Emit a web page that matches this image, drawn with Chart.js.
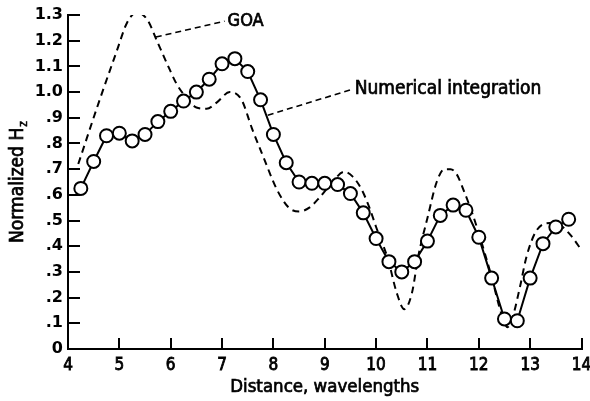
<!DOCTYPE html>
<html>
<head>
<meta charset="utf-8">
<script src="https://cdn.jsdelivr.net/npm/chart.js@4.4.1/dist/chart.umd.min.js"></script>
<style>
  html, body { margin: 0; padding: 0; background: #fff; }
</style>
</head>
<body>
<canvas id="myChart" width="590" height="401"></canvas>
<script>
// numerical integration (open circles)
const numX = [4.25, 4.5, 4.75, 5, 5.25, 5.5, 5.75, 6, 6.25, 6.5, 6.75, 7, 7.25, 7.5, 7.75,
  8, 8.25, 8.5, 8.75, 9, 9.25, 9.5, 9.75, 10, 10.25, 10.5, 10.75, 11, 11.25, 11.5, 11.75,
  12, 12.25, 12.5, 12.75, 13, 13.25, 13.5, 13.75];
const numY = [0.625, 0.73, 0.83, 0.84, 0.81, 0.835, 0.885, 0.925, 0.965, 1.0, 1.05, 1.11, 1.13, 1.08, 0.97,
  0.835, 0.725, 0.65, 0.645, 0.645, 0.64, 0.605, 0.53, 0.43, 0.34, 0.30, 0.34, 0.42, 0.52, 0.56, 0.54,
  0.435, 0.276, 0.117, 0.11, 0.276, 0.41, 0.475, 0.505];

// GOA (dashed curve)
const goaX = [4.2, 4.6, 4.95, 5.15, 5.34, 5.55, 5.73, 5.93, 6.12, 6.3, 6.5, 6.7, 6.9, 7.15, 7.38,
  7.58, 7.8, 8.07, 8.3, 8.5, 8.7, 8.9, 9.15, 9.38, 9.55, 9.72, 9.87, 10.0, 10.23, 10.4, 10.55,
  10.7, 10.82, 11.0, 11.18, 11.33, 11.45, 11.57, 11.72, 11.87, 12.0, 12.25, 12.45, 12.56, 12.66,
  12.8, 12.93, 13.12, 13.38, 13.6, 13.8, 14.0];
const goaY = [0.72, 0.96, 1.16, 1.27, 1.31, 1.28, 1.2, 1.11, 1.03, 0.98, 0.94, 0.935, 0.96, 1.0, 0.97,
  0.86, 0.75, 0.62, 0.55, 0.535, 0.55, 0.59, 0.65, 0.69, 0.67, 0.62, 0.55, 0.475, 0.35, 0.22, 0.155,
  0.22, 0.36, 0.51, 0.65, 0.7, 0.7, 0.68, 0.61, 0.53, 0.45, 0.28, 0.13, 0.085, 0.125,
  0.24, 0.36, 0.46, 0.49, 0.48, 0.44, 0.385];

// tick labels
const xTickValues = [4, 5, 6, 7, 8, 9, 10, 11, 12, 13, 14];
const yTickValues = [0, 0.1, 0.2, 0.3, 0.4, 0.5, 0.6, 0.7, 0.8, 0.9, 1.0, 1.1, 1.2, 1.3];
const yTickLabels = ["0", ".1", ".2", ".3", ".4", ".5", ".6", ".7", ".8", ".9", "1.0", "1.1", "1.2", "1.3"];

const narrow = "'DejaVu Sans Condensed', 'DejaVu Sans', sans-serif";

// callouts, in data units
const notes = [
  { text: "GOA", from: [5.71, 1.214], to: [7.05, 1.276], size: 18 },
  { text: "Numerical integration", from: [7.89, 0.91], to: [9.525, 1.01], size: 19 },
];

// fill + thin stroke so the condensed face looks as heavy as the original lettering
function heavyText(ctx, str, x, y) {
  ctx.fillText(str, x, y);
  ctx.strokeText(str, x, y);
}

const calloutPlugin = {
  id: "callouts",
  afterDraw(chart) {
    const ctx = chart.ctx;
    const x = chart.scales.x;
    const y = chart.scales.y;
    const area = chart.chartArea;
    ctx.save();
    ctx.strokeStyle = "#000";
    ctx.fillStyle = "#000";
    ctx.lineWidth = 1.6;
    ctx.setLineDash([6, 4]);
    notes.forEach((n) => {
      const x1 = x.getPixelForValue(n.from[0]);
      const y1 = y.getPixelForValue(n.from[1]);
      const x2 = x.getPixelForValue(n.to[0]);
      const y2 = y.getPixelForValue(n.to[1]);
      ctx.lineWidth = 1.6;
      ctx.setLineDash([6, 4]);
      ctx.beginPath();
      ctx.moveTo(x1, y1);
      ctx.lineTo(x2, y2);
      ctx.stroke();
      ctx.setLineDash([]);
      ctx.lineWidth = 0.7;
      ctx.font = n.size + "px " + narrow;
      ctx.textAlign = "left";
      ctx.textBaseline = "middle";
      heavyText(ctx, n.text, x2 + 3, y2);
    });
    ctx.setLineDash([]);
    ctx.lineWidth = 0.7;

    // x axis title
    ctx.font = "18.5px " + narrow;
    ctx.textAlign = "center";
    ctx.textBaseline = "middle";
    heavyText(ctx, "Distance, wavelengths", (area.left + area.right) / 2, chart.height - 14);

    // y axis title with subscript
    ctx.translate(18, (area.top + area.bottom) / 2);
    ctx.rotate(-Math.PI / 2);
    ctx.font = "19px " + narrow;
    const main = "Normalized H";
    const w1 = ctx.measureText(main).width;
    ctx.font = "12px " + narrow;
    const w2 = ctx.measureText("z").width;
    const start = -(w1 + w2 + 1) / 2;
    ctx.textAlign = "left";
    ctx.textBaseline = "middle";
    ctx.font = "19px " + narrow;
    heavyText(ctx, main, start, 0);
    ctx.font = "12px " + narrow;
    ctx.lineWidth = 0.5;
    heavyText(ctx, "z", start + w1 + 1, 6);
    ctx.restore();
  },
};

const data = {
  datasets: [
    {
      label: "Numerical integration",
      data: numX.map((v, i) => ({ x: v, y: numY[i] })),
      borderColor: "#000",
      borderWidth: 2,
      pointRadius: 6.5,
      pointBorderWidth: 2,
      pointBackgroundColor: "#fff",
      pointBorderColor: "#000",
      tension: 0,
      fill: false,
    },
    {
      label: "GOA",
      data: goaX.map((v, i) => ({ x: v, y: goaY[i] })),
      borderColor: "#000",
      borderWidth: 2,
      borderDash: [7, 5],
      pointRadius: 0,
      cubicInterpolationMode: "monotone",
      fill: false,
    },
  ],
};

const options = {
  responsive: false,
  animation: false,
  devicePixelRatio: 1,
  layout: { padding: { left: 0, top: 15, right: 8, bottom: 0 } },
  plugins: {
    legend: { display: false },
    tooltip: { enabled: false },
  },
  scales: {
    x: {
      type: "linear",
      min: 4,
      max: 14,
      afterBuildTicks: (scale) => {
        scale.ticks = xTickValues.map((v) => ({ value: v }));
      },
      afterFit: (scale) => {
        scale.height = 52;
        scale.paddingLeft = 0;
        scale.paddingRight = 0;
      },
      grid: {
        drawOnChartArea: false,
        drawTicks: true,
        tickLength: -11,
        color: "#000",
        lineWidth: 2,
      },
      border: { display: true, color: "#000", width: 2 },
      ticks: {
        color: "#000",
        padding: 19,
        maxRotation: 0,
        textStrokeColor: "#000",
        textStrokeWidth: 0.8,
        font: { family: narrow, size: 17, lineHeight: 1 },
      },
    },
    y: {
      type: "linear",
      min: 0,
      max: 1.3,
      afterBuildTicks: (scale) => {
        scale.ticks = yTickValues.map((v) => ({ value: v }));
      },
      afterFit: (scale) => {
        scale.width = 68;
        scale.paddingTop = 0;
        scale.paddingBottom = 0;
      },
      grid: {
        drawOnChartArea: false,
        drawTicks: true,
        tickLength: -12,
        color: "#000",
        lineWidth: 2,
      },
      border: { display: true, color: "#000", width: 2 },
      ticks: {
        color: "#000",
        padding: 17,
        callback: (value, index) => yTickLabels[index],
        font: { family: "'DejaVu Sans', sans-serif", size: 16, weight: "bold", lineHeight: 1 },
      },
    },
  },
};

const ctx = document.getElementById("myChart").getContext("2d");
let myChart = new Chart(ctx, {
  type: "line",
  data,
  options,
  plugins: [calloutPlugin],
});
</script>
</body>
</html>
